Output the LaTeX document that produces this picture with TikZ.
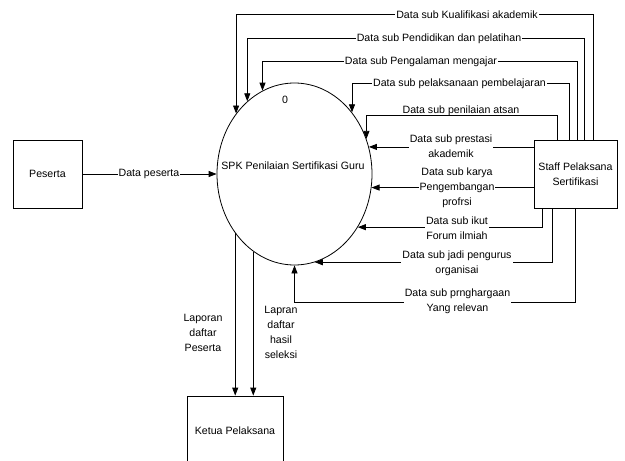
\documentclass[tikz,border=0pt]{standalone}
\usepackage{fontspec}
\setmainfont{Liberation Sans}
\usetikzlibrary{shapes.geometric,arrows.meta}
\begin{document}
\begin{tikzpicture}[x=1pt,y=-1pt,
  every node/.style={font=\fontsize{10.6}{15}\selectfont},
  flow/.style={draw=black,line width=0.8pt,-{Triangle[length=8pt,width=6pt]}},
  lbl/.style={fill=white,inner sep=1pt,align=center},
  plain/.style={inner sep=0pt,align=center},
  boxnode/.style={draw,line width=0.8pt,inner sep=0pt,align=center},
]
\clip (0,0) rectangle (625,461);

% entities and process
\node[boxnode,minimum width=69pt,minimum height=68pt] (pes) at (47.5,174) {Peserta};
\node[draw,ellipse,line width=0.8pt,minimum width=155pt,minimum height=182pt,inner sep=0pt] (ell) at (294.5,174) {};
\node (ellnum) at (285,100) {0};
\node (elltxt) at (293,166) {SPK Penilaian Sertifikasi Guru};
\node[boxnode,minimum width=83pt,minimum height=68pt] (staff) at (575.5,174) {Staff Pelaksana\\Sertifikasi};
\node[boxnode,minimum width=96pt,minimum height=70pt] (ket) at (235,431) {Ketua Pelaksana};

% Peserta -> process
\draw[flow] (pes.east) -- (ell.west);
\node[lbl] (lpes) at (149,174) {Data peserta};

% Staff -> process (top loops)
\draw[flow] ([xshift=17.5pt]staff.north) -- ++(0,-125) -| (ell.134.4);
\draw[flow] ([xshift=8.5pt]staff.north) -- ++(0,-101) -| (ell.123.45);
\draw[flow] ([xshift=1.5pt]staff.north) -- ++(0,-78) -| (ell.111.5);
\draw[flow] ([xshift=-6.5pt]staff.north) -- ++(0,-56) -| (ell.47.8);
\draw[flow] ([xshift=-18.5pt]staff.north) -- ++(0,-24) -| (ell.26.1);

% Staff -> process (horizontal)
\draw[flow] (ell.20.8 -| staff.west) -- (ell.20.8);
\draw[flow] (ell.-10.36 -| staff.west) -- (ell.-10.36);

% Staff -> process (bottom)
\draw[flow] ([xshift=-33.5pt]staff.south) |- (ell.-40.87);
\draw[flow] ([xshift=-23.5pt]staff.south) |- (ell.-77.4);
\draw[flow] (staff.south) -- ++(0,94) -| (ell.south);

% process -> Ketua
\draw[flow] (ell.225.6) -- (ell.225.6 |- ket.north);
\draw[flow] (ell.242.44) -- (ell.242.44 |- ket.north);

% labels
\node[lbl] (l1) at (467,15) {Data sub Kualifikasi akademik};
\node[lbl] (l2) at (439,39) {Data sub Pendidikan dan pelatihan};
\node[lbl] (l3) at (421,62) {Data sub Pengalaman mengajar};
\node[lbl] (l4) at (459.5,84) {Data sub pelaksanaan pembelajaran};
\node[plain,anchor=base] (l5) at (461,113.5) {Data sub penilaian atsan};
\node[lbl] (l6) at (451,146) {Data sub prestasi\\akademik};
\node[lbl] (l7) at (457,188) {Data sub karya\\Pengembangan\\profrsi};
\node[lbl] (l8) at (457,228) {Data sub ikut\\Forum ilmiah};
\node[lbl] (l9) at (457,263) {Data sub jadi pengurus\\organisai};
\node[lbl] (l10) at (457.5,301) {Data sub prnghargaan\\Yang relevan};
\node[plain] (l11) at (203,333) {Laporan\\daftar\\Peserta};
\node[plain] (l12) at (281,332.5) {Lapran\\daftar\\hasil\\seleksi};
\end{tikzpicture}
\end{document}
